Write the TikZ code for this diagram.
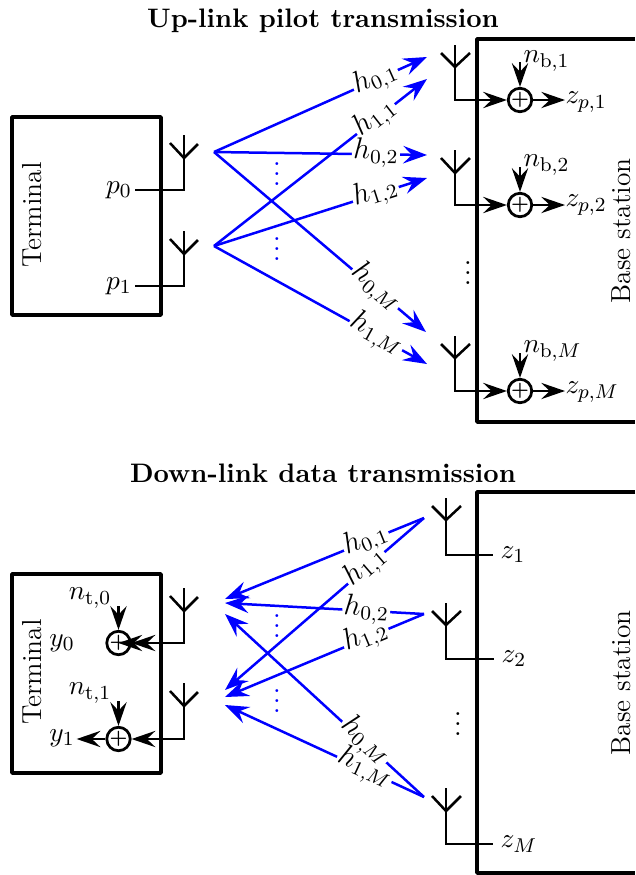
\documentclass[tikz,border=0pt]{standalone}
\usepackage{amsmath,amssymb}
\usetikzlibrary{arrows.meta}
\tikzset{
    box/.style={line width=1.5pt,line join=round},
    wire/.style={line width=1pt,line join=miter},
    feed/.style={wire,-{Stealth[length=9.5pt,width=6.5pt,inset=3.4pt]}},
    chan/.style={line width=1pt,blue},
    chanup/.style={chan,-{Stealth[length=9.5pt,width=7pt,inset=3.4pt]}},
    chandown/.style={chan,-{Stealth[length=9.5pt,width=7pt,inset=3.4pt]}},
    gain/.style={sloped,fill=white,inner xsep=.5pt,inner ysep=0pt,text height=4.8pt,text depth=1.2pt,font=\fontsize{11.5}{12}\selectfont,text=black},
    adder/.style={circle,draw,line width=1.1pt,minimum size=9pt,inner sep=0pt,font=\fontsize{7.5}{8}\bfseries\selectfont},
    lbl/.style={font=\fontsize{11}{12}\selectfont,inner sep=0pt},
    sidelbl/.style={lbl,rotate=90},
    heading/.style={font=\fontsize{10.7}{12}\selectfont\bfseries,inner sep=0pt},
    dots/.style={inner sep=0pt,font=\fontsize{12}{12}\selectfont}
}
\begin{document}
\begin{tikzpicture}[x=.4pt,y=-.4pt]
    \useasboundingbox (0,0) rectangle (635,875);

    %% Up-link
    \node[heading] (uptitle) at (323,21) {Up-link pilot transmission};

    % Terminal
    \draw[box] (12,117) rectangle (161,315);
    \node[sidelbl] (upterm) at (32,215) {Terminal};
    \node[lbl] (p0) at (119,190) {$p_0$};
    \node[lbl] (p1) at (119,286) {$p_1$};
    \coordinate (uptip0) at (184,135);
    \coordinate (uptip1) at (184,231);
    \draw[wire] (170,143) -- (184,158) -- (198,144);
    \draw[wire] (170,239) -- (184,254) -- (198,240);
    \draw[wire] (uptip0) |- ([xshift=1pt]p0.east);
    \draw[wire] (uptip1) |- ([xshift=1pt]p1.east);

    % Base station
    \draw[box] (635,39) -- (477,39) -- (477,422) -- (635,422);
    \node[sidelbl] (upbase) at (621,231) {Base station};
    \node[adder] (upadd1) at (520,100) {+};
    \node[adder] (upadd2) at (520,205) {+};
    \node[adder] (upaddM) at (520,391) {+};
    \coordinate (uprx1) at (455,45);
    \coordinate (uprx2) at (455,150);
    \coordinate (uprxM) at (455,336);
    \draw[wire] (441,53) -- (455,67) -- (470,53);
    \draw[wire] (441,158) -- (455,173) -- (470,158);
    \draw[wire] (441,344) -- (455,358) -- (470,344);
    \draw[feed] (uprx1) |- (upadd1);
    \draw[feed] (uprx2) |- (upadd2);
    \draw[feed] (uprxM) |- (upaddM);

    % Noise and outputs
    \node[lbl,anchor=west] (nb1) at (523,61) {$n_{\mathrm{b},1}$};
    \node[lbl,anchor=west] (nb2) at (523,165) {$n_{\mathrm{b},2}$};
    \node[lbl,anchor=west] (nbM) at (523,351) {$n_{\mathrm{b},M}$};
    \coordinate (nbin1) at (520,62);
    \coordinate (nbin2) at (520,167);
    \coordinate (nbinM) at (520,353);
    \draw[feed] (nbin1) -- (upadd1);
    \draw[feed] (nbin2) -- (upadd2);
    \draw[feed] (nbinM) -- (upaddM);
    \node[lbl,anchor=west] (zp1) at (565,102) {$z_{p,1}$};
    \node[lbl,anchor=west] (zp2) at (565,205) {$z_{p,2}$};
    \node[lbl,anchor=west] (zpM) at (565,392) {$z_{p,M}$};
    \draw[feed] (upadd1) -- (zp1.west |- upadd1);
    \draw[feed] (upadd2) -- (zp2.west |- upadd2);
    \draw[feed] (upaddM) -- (zpM.west |- upaddM);
    \node[dots] (updots) at (468,266) {$\vdots$};

    % Channels
    \coordinate (uptx0) at (214,152);
    \coordinate (uptx1) at (214,246);
    \coordinate (upend01) at (427,57);
    \coordinate (upend11) at (427,79);
    \coordinate (upend02) at (427,155);
    \coordinate (upend12) at (427,178);
    \coordinate (upend0M) at (426,332);
    \coordinate (upend1M) at (427,364);
    \draw[chanup] (uptx0) -- (upend01) node[gain,pos=.76] (uph01) {$h_{0,1}$};
    \draw[chanup] (uptx1) -- (upend11) node[gain,pos=.76] (uph11) {$h_{1,1}$};
    \draw[chanup] (uptx0) -- (upend02) node[gain,pos=.76] (uph02) {$h_{0,2}$};
    \draw[chanup] (uptx1) -- (upend12) node[gain,pos=.76] (uph12) {$h_{1,2}$};
    \draw[chanup] (uptx0) -- (upend0M) node[gain,pos=.76] (uph0M) {$h_{0,M}$};
    \draw[chanup] (uptx1) -- (upend1M) node[gain,pos=.76] (uph1M) {$h_{1,M}$};
    \node[dots,blue] (updots0) at (277,167) {$\vdots$};
    \node[dots,blue] (updots1) at (277,242) {$\vdots$};

    %% Down-link
    \node[heading] (downtitle) at (323,473) {Down-link data transmission};

    % Terminal
    \draw[box] (12,574) rectangle (161,773);
    \node[sidelbl] (downterm) at (32,672) {Terminal};
    \node[adder] (downadd0) at (118.5,643) {+};
    \node[adder] (downadd1) at (118.5,739) {+};
    \coordinate (downtip0) at (184,588);
    \coordinate (downtip1) at (184,683);
    \draw[wire] (170,596) -- (184,611) -- (198,597);
    \draw[wire] (170,691) -- (184,706) -- (198,692);
    \draw[feed] (downtip0) |- (downadd0);
    \draw[feed] (downtip1) |- (downadd1);
    \draw[feed] (downadd0.east) -- (downadd0.center);
    \node[lbl] (nt0) at (90,598) {$n_{\mathrm{t},0}$};
    \node[lbl] (nt1) at (90,693) {$n_{\mathrm{t},1}$};
    \coordinate (ntin0) at (118.5,606);
    \coordinate (ntin1) at (118.5,701);
    \draw[feed] (ntin0) -- (downadd0);
    \draw[feed] (ntin1) -- (downadd1);
    \node[lbl] (y0) at (62,643) {$y_0$};
    \node[lbl] (y1) at (62,738) {$y_1$};
    \draw[feed] (downadd1) -- ([xshift=.6pt]y1.east |- downadd1);

    % Base station
    \draw[box] (635,492) -- (477,492) -- (477,873) -- (635,873);
    \node[sidelbl] (downbase) at (621,683) {Base station};
    \node[lbl] (z1) at (513,555) {$z_1$};
    \node[lbl] (z2) at (514,659) {$z_2$};
    \node[lbl] (zM) at (519,844) {$z_M$};
    \coordinate (downrx1) at (446,498);
    \coordinate (downrx2) at (446,603);
    \coordinate (downrxM) at (446,788);
    \draw[wire] (432,506) -- (446,520) -- (461,506);
    \draw[wire] (432,611) -- (446,625) -- (461,611);
    \draw[wire] (432,796) -- (446,811) -- (461,796);
    \draw[wire] (downrx1) |- ([xshift=-2.8pt]z1.west);
    \draw[wire] (downrx2) |- ([xshift=-2.8pt]z2.west);
    \draw[wire] (downrxM) |- ([xshift=-2.8pt]zM.west);
    \node[dots] (downdots) at (458,717) {$\vdots$};

    % Channels
    \coordinate (downtx1) at (424,518);
    \coordinate (downtx2) at (424,614);
    \coordinate (downtxM) at (424,797);
    \coordinate (downend01) at (225,599);
    \coordinate (downend02) at (225,603);
    \coordinate (downend0M) at (225,614);
    \coordinate (downend11) at (225,690);
    \coordinate (downend12) at (225,697);
    \coordinate (downend1M) at (225,705);
    \draw[chandown] (downtx1) -- (downend01) node[gain,pos=.29] (downh01) {$h_{0,1}$};
    \draw[chandown] (downtx1) -- (downend11) node[gain,pos=.29] (downh11) {$h_{1,1}$};
    \draw[chandown] (downtx2) -- (downend02) node[gain,pos=.29] (downh02) {$h_{0,2}$};
    \draw[chandown] (downtx2) -- (downend12) node[gain,pos=.29] (downh12) {$h_{1,2}$};
    \draw[chandown] (downtxM) -- (downend0M) node[gain,pos=.3] (downh0M) {$h_{0,M}$};
    \draw[chandown] (downtxM) -- (downend1M) node[gain,pos=.3] (downh1M) {$h_{1,M}$};
    \node[dots,blue] (downdots0) at (277,619) {$\vdots$};
    \node[dots,blue] (downdots1) at (277,694) {$\vdots$};
\end{tikzpicture}
\end{document}
